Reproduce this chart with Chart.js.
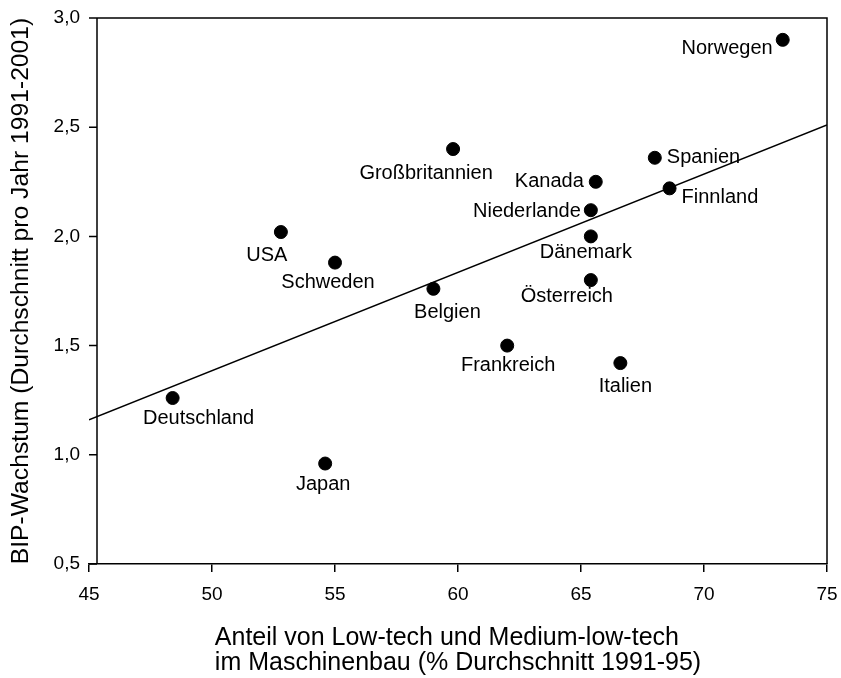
<!DOCTYPE html>
<html>
<head>
<meta charset="utf-8">
<script src="https://cdn.jsdelivr.net/npm/chart.js@4"></script>
<style>
  body { margin: 0; background: #fff; }
  canvas { display: block; }
</style>
</head>
<body>
<canvas id="scatter" width="841" height="678"></canvas>
<script>
// Länder und Werte
const countries = ['Norwegen', 'Spanien', 'Finnland', 'Kanada', 'Niederlande', 'Dänemark', 'Österreich',
    'Großbritannien', 'USA', 'Schweden', 'Belgien', 'Deutschland', 'Japan', 'Frankreich', 'Italien'];
const anteil = [73.2, 68.0, 68.6, 65.6, 65.4, 65.4, 65.4, 59.8, 52.8, 55.0, 59.0, 48.4, 54.6, 62.0, 66.6];
const wachstum = [2.90, 2.36, 2.22, 2.25, 2.12, 2.00, 1.80, 2.40, 2.02, 1.88, 1.76, 1.26, 0.96, 1.50, 1.42];

// Regressionsgerade (Endpunkte)
const trendX = [45, 75];
const trendY = [1.16, 2.51];

const xTicks = [45, 50, 55, 60, 65, 70, 75];
const yTicks = [0.5, 1.0, 1.5, 2.0, 2.5, 3.0];

const xTitle = ['Anteil von Low-tech und Medium-low-tech', 'im Maschinenbau (% Durchschnitt 1991-95)'];
const yTitle = 'BIP-Wachstum (Durchschnitt pro Jahr 1991-2001)';

// Lage der Beschriftung relativ zum Punkt: [dx, dy, Ausrichtung]
const labelPos = {
    'Norwegen': [-10, 9, 'right'],
    'Spanien': [12, 0, 'left'],
    'Finnland': [12, 9, 'left'],
    'Kanada': [-12, 0, 'right'],
    'Niederlande': [-10, 1, 'right'],
    'Dänemark': [-5, 16, 'center'],
    'Österreich': [-24, 16, 'center'],
    'Großbritannien': [-27, 24, 'center'],
    'USA': [-14, 23, 'center'],
    'Schweden': [-7, 20, 'center'],
    'Belgien': [14, 24, 'center'],
    'Deutschland': [26, 20, 'center'],
    'Japan': [-2, 21, 'center'],
    'Frankreich': [1, 20, 'center'],
    'Italien': [5, 23, 'center']
};

const FONT = '"Liberation Sans", Arial, sans-serif';

// Rahmen, y-Achse (leicht eingerückt) und Teilstriche
const framePlugin = {
    id: 'frame',
    beforeDatasetsDraw(chart) {
        const { ctx, chartArea: a, scales: { y } } = chart;
        ctx.save();
        ctx.strokeStyle = '#000';
        ctx.lineWidth = 1.5;
        ctx.beginPath();
        ctx.moveTo(a.left, a.top);
        ctx.lineTo(a.right, a.top);
        ctx.lineTo(a.right, a.bottom);
        ctx.moveTo(a.left + 8, a.top);
        ctx.lineTo(a.left + 8, a.bottom);
        yTicks.forEach(v => {
            const py = y.getPixelForValue(v);
            ctx.moveTo(a.left, py);
            ctx.lineTo(a.left + 8, py);
        });
        ctx.stroke();
        ctx.restore();
    }
};

// Ländernamen neben den Punkten
const labelPlugin = {
    id: 'pointLabels',
    afterDatasetsDraw(chart) {
        const { ctx } = chart;
        const meta = chart.getDatasetMeta(0);
        ctx.save();
        ctx.fillStyle = '#000';
        ctx.font = '20px ' + FONT;
        ctx.textBaseline = 'middle';
        meta.data.forEach((pt, i) => {
            const p = labelPos[countries[i]];
            ctx.textAlign = p[2];
            ctx.fillText(countries[i], pt.x + p[0], pt.y + p[1]);
        });
        ctx.restore();
    }
};

// zweizeiliger x-Achsentitel, linksbündig als Block zentriert
const xTitlePlugin = {
    id: 'xTitle',
    afterDraw(chart) {
        const { ctx, chartArea: a } = chart;
        ctx.save();
        ctx.fillStyle = '#000';
        ctx.font = '25px ' + FONT;
        ctx.textBaseline = 'alphabetic';
        ctx.textAlign = 'left';
        const w = Math.max(...xTitle.map(t => ctx.measureText(t).width));
        const x0 = (a.left + a.right) / 2 - w / 2;
        ctx.fillText(xTitle[0], x0, 645);
        ctx.fillText(xTitle[1], x0, 670);
        ctx.restore();
    }
};

new Chart(document.getElementById('scatter').getContext('2d'), {
    type: 'scatter',
    data: {
        datasets: [{
            label: 'Länder',
            data: anteil.map((v, i) => ({ x: v, y: wachstum[i] })),
            backgroundColor: '#000',
            borderColor: '#000',
            pointRadius: 6.5,
            pointHoverRadius: 6.5
        }, {
            type: 'line',
            label: 'Trend',
            data: trendX.map((v, i) => ({ x: v, y: trendY[i] })),
            borderColor: '#000',
            borderWidth: 1.5,
            pointRadius: 0,
            fill: false
        }]
    },
    options: {
        responsive: false,
        animation: false,
        layout: { padding: { top: 18, right: 14, left: 0, bottom: 0 } },
        plugins: {
            legend: { display: false },
            tooltip: { enabled: false }
        },
        scales: {
            x: {
                type: 'linear',
                min: 45,
                max: 75,
                afterBuildTicks: s => { s.ticks = xTicks.map(v => ({ value: v })); },
                afterFit: s => { s.height = 114; s.paddingLeft = 0; s.paddingRight = 0; },
                ticks: {
                    color: '#000',
                    font: { family: FONT, size: 19 },
                    padding: 11,
                    maxRotation: 0
                },
                grid: {
                    drawOnChartArea: false,
                    drawTicks: true,
                    tickLength: 8,
                    color: '#000',
                    lineWidth: 1.5
                },
                border: { display: true, color: '#000', width: 1.5 }
            },
            y: {
                type: 'linear',
                min: 0.5,
                max: 3.0,
                afterBuildTicks: s => { s.ticks = yTicks.map(v => ({ value: v })); },
                afterFit: s => { s.width = 89; s.paddingTop = 0; s.paddingBottom = 0; },
                ticks: {
                    color: '#000',
                    font: { family: FONT, size: 19 },
                    padding: 9,
                    callback: v => v.toFixed(1).replace('.', ',')
                },
                grid: { drawOnChartArea: false, drawTicks: false },
                border: { display: false },
                title: {
                    display: true,
                    text: yTitle,
                    color: '#000',
                    font: { family: FONT, size: 24.7 },
                    padding: { top: 6, bottom: 0 }
                }
            }
        }
    },
    plugins: [framePlugin, labelPlugin, xTitlePlugin]
});
</script>
</body>
</html>
